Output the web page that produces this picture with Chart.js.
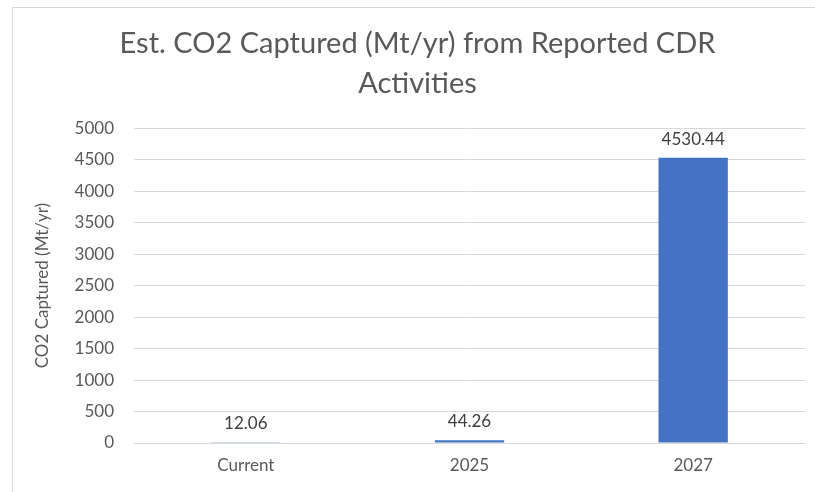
<!DOCTYPE html>
<html>
<head>
<meta charset="utf-8">
<script src="https://cdn.jsdelivr.net/npm/chart.js@4/dist/chart.umd.min.js"></script>
<style>
  html, body { margin: 0; padding: 0; background: #fff; }
  #wrap { position: relative; width: 815px; height: 492px; }
  #frame { position: absolute; left: 12px; top: 7px; width: 820px; height: 500px; border: 1px solid #d9d9d9; box-sizing: border-box; }
  canvas { position: absolute; left: 0; top: 0; }
</style>
</head>
<body>
<div id="wrap">
  <div id="frame"></div>
  <canvas id="graph" width="815" height="492"></canvas>
</div>
<script>
// chart data
const categories = ['Current', '2025', '2027'];
const captured = [12.06, 44.26, 4530.44];
const labelsShown = ['12.06', '44.26', '4530.44'];

const greyText = '#595959';
const fontFam = 'Lato, "Open Sans", sans-serif';

// value labels above each bar
const barLabels = {
  id: 'barLabels',
  afterDatasetsDraw(chart) {
    const ctx = chart.ctx;
    const meta = chart.getDatasetMeta(0);
    ctx.save();
    ctx.font = '17px ' + fontFam;
    ctx.fillStyle = '#404040';
    ctx.textAlign = 'center';
    ctx.textBaseline = 'bottom';
    meta.data.forEach(function (bar, i) {
      ctx.fillText(labelsShown[i], bar.x, bar.y - 10);
    });
    ctx.restore();
  }
};

const config = {
  type: 'bar',
  data: {
    labels: categories,
    datasets: [{
      label: 'CO2 Captured (Mt/yr)',
      data: captured,
      backgroundColor: '#4472C4',
      borderWidth: 0,
      barPercentage: 0.31,
      categoryPercentage: 1
    }]
  },
  options: {
    responsive: false,
    animation: false,
    layout: { padding: { left: 30, right: 10, top: 0, bottom: 9 } },
    plugins: {
      legend: { display: false },
      tooltip: { enabled: false },
      title: {
        display: true,
        text: ['Est. CO2 Captured (Mt/yr) from Reported CDR', 'Activities'],
        color: greyText,
        font: { family: fontFam, size: 29, weight: 'normal', lineHeight: 1.4 },
        padding: { top: 23, bottom: 24 }
      }
    },
    scales: {
      x: {
        grid: { display: false, drawTicks: false },
        border: { color: '#d9d9d9' },
        ticks: {
          color: greyText,
          padding: 12,
          font: { family: fontFam, size: 17 }
        },
        afterFit(scale) { scale.height = 40; }
      },
      y: {
        min: 0,
        max: 5000,
        grid: { color: '#d9d9d9', drawTicks: false },
        border: { display: false },
        ticks: {
          stepSize: 500,
          color: greyText,
          padding: 20,
          font: { family: fontFam, size: 17 },
          callback: function (value) { return String(value); }
        },
        title: {
          display: true,
          text: 'CO2 Captured (Mt/yr)',
          color: greyText,
          padding: { top: 2, bottom: 0 },
          font: { family: fontFam, size: 17 }
        },
        afterFit(scale) { scale.width = 104; }
      }
    }
  },
  plugins: [barLabels]
};

const co2Chart = new Chart(document.getElementById('graph'), config);
</script>
</body>
</html>
